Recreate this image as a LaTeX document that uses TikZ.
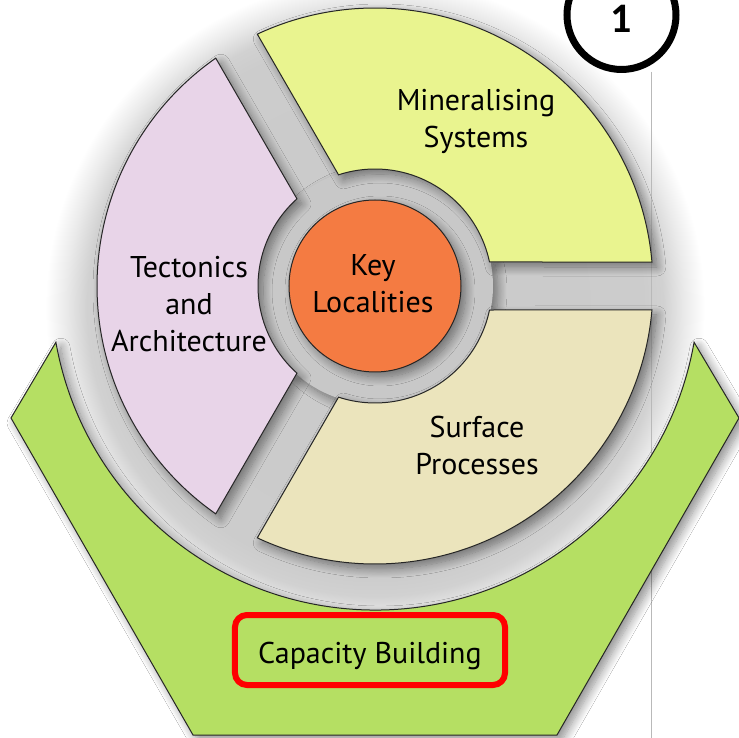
\documentclass[tikz,border=0pt]{standalone}
\usepackage{fontspec}
\setmainfont{PT Sans}
\newfontfamily\numfont{Carlito}
\usetikzlibrary{shadows.blur}
\definecolor{minyel}{HTML}{E9F48F}
\definecolor{tecpur}{HTML}{E8D4E8}
\definecolor{surbei}{HTML}{EBE4BC}
\definecolor{keyora}{HTML}{F47B42}
\definecolor{capgrn}{HTML}{B5DF63}
\definecolor{ringgry}{HTML}{C8C8C8}
% circle radius 335 <-> 25bp
\pgfdeclareradialshading{wheelbg}{\pgfpoint{0bp}{0bp}}{color(0bp)=(gray!42); color(20bp)=(gray!40); color(21.5bp)=(gray!36); color(23.1bp)=(gray!16); color(24.6bp)=(white); color(25bp)=(white); color(50bp)=(white)}
\begin{document}
\begin{tikzpicture}[x=1pt,y=1pt,
  shapeline/.style={draw=black!85, line width=1pt},
  shad/.style={blur shadow={shadow xshift=5pt, shadow yshift=-5pt, shadow blur radius=9pt, shadow blur steps=12, shadow opacity=45}},
  lbl/.style={font=\fontsize{30}{37}\selectfont, align=center, text=black, inner sep=0pt, anchor=base}]
\useasboundingbox (-375,-452) rectangle (364,286);
\fill[white] (-375,-452) rectangle (364,286);
% wheel background (soft shadow of the whole wheel)
\shade[shading=wheelbg] (0,-22) circle (335);
% slide border line
\draw[gray!55, line width=0.8pt] (276,214) -- (276,-452);
% inner grey ring
\fill[ringgry, shad] (0,0) circle (118);
% sectors
\path[fill=minyel, shapeline, shad] (4.95:278) arc[start angle=4.95, end angle=115.05, radius=278] -- (108.16:117) arc[start angle=108.16, end angle=11.84, radius=117] -- cycle;
\path[fill=tecpur, shapeline, shad] (124.95:278) arc[start angle=124.95, end angle=235.05, radius=278] -- (228.16:117) arc[start angle=228.16, end angle=131.84, radius=117] -- cycle;
\path[fill=surbei, shapeline, shad] (244.95:278) arc[start angle=244.95, end angle=355.05, radius=278] -- (348.16:117) arc[start angle=348.16, end angle=251.84, radius=117] -- cycle;
% capacity building band
\path[fill=capgrn, shapeline, shad] (-10:324) arc[start angle=-10, end angle=-170, radius=324] -- (-364,-132) -- (-182,-449) -- (182,-449) -- (364,-132) -- cycle;
% key localities
\node[circle, minimum size=172pt, inner sep=0pt, fill=keyora, shapeline, shad] (key) at (0,0) {};
\node[lbl] (keytxt) at (-2,-27) {Key\\Localities};
\node[lbl] (mintxt) at (101,138) {Mineralising\\Systems};
\node[lbl] (tectxt) at (-186,-66) {Tectonics\\and\\Architecture};
\node[lbl] (surtxt) at (102,-189) {Surface\\Processes};
% capacity building box
\node[draw=red, line width=6pt, rounded corners=12pt, minimum width=270pt, minimum height=70pt] (capbox) at (-5,-364) {};
\node[lbl] (captxt) at (-5,-377) {Capacity Building};
% number badge
\node[circle, draw=black, line width=7pt, minimum size=109pt, inner sep=0pt] (badge) at (246.5,271) {};
\node[anchor=base, inner sep=0pt, font=\numfont\bfseries\fontsize{42}{42}\selectfont] (badgetxt) at (246.5,253) {1};
\end{tikzpicture}
\end{document}
